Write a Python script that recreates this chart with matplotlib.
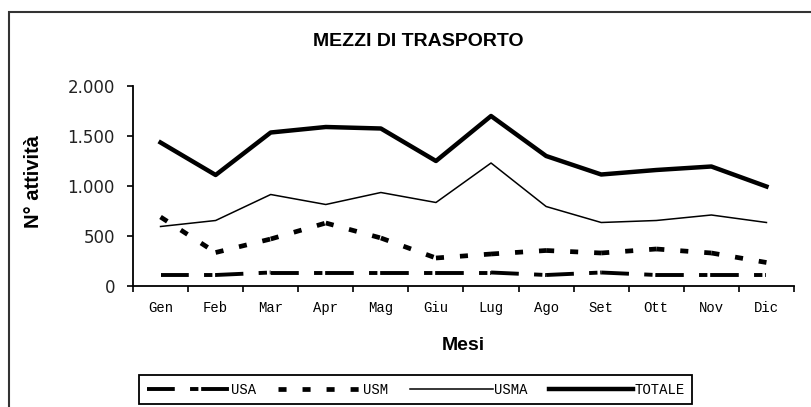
import matplotlib
matplotlib.use("Agg")
import matplotlib.pyplot as plt
from matplotlib.patches import Rectangle

# dati
mesi = ["Gen", "Feb", "Mar", "Apr", "Mag", "Giu", "Lug", "Ago", "Set", "Ott", "Nov", "Dic"]
usa = [110, 110, 135, 135, 135, 135, 135, 110, 135, 110, 110, 110]
usm = [690, 335, 470, 630, 480, 280, 320, 355, 330, 370, 330, 235]
usma = [595, 655, 915, 815, 935, 835, 1230, 795, 635, 655, 710, 635]
totale = [1435, 1110, 1535, 1590, 1575, 1250, 1700, 1300, 1115, 1160, 1195, 995]
y_ticks = [0, 500, 1000, 1500, 2000]
y_labels = ["0", "500", "1.000", "1.500", "2.000"]

plt.rcParams['lines.scale_dashes'] = False

fig = plt.figure(figsize=(8.12, 4.07), dpi=100)
ax = fig.add_axes([133 / 812, 1 - 286 / 407, 661 / 812, 200 / 407])

x = list(range(len(mesi)))

# come in Excel il tratteggio riparte a ogni segmento
def plot_segments(vals, label, **kw):
    for i in range(len(vals) - 1):
        ax.plot(x[i:i + 2], vals[i:i + 2], label=label if i == 0 else None,
                dash_capstyle='butt', **kw)

plot_segments(usa, "USA", color='black', lw=2.8, dashes=(20, 11, 6, 2))
plot_segments(usm, "USM", color='black', lw=3.4, dashes=(5.8, 11.5))
ax.plot(x, usma, color='black', lw=1.1, label="USMA")
ax.plot(x, totale, color='black', lw=3.2, label="TOTALE", solid_joinstyle='round')

ax.set_xlim(-0.5, len(mesi) - 0.5)
ax.set_ylim(0, 2000)
ax.set_yticks(y_ticks)
ax.set_yticklabels(y_labels, fontsize=12, family='DejaVu Sans', color='#222222')
ax.set_xticks([i - 0.5 for i in range(len(mesi) + 1)])
ax.set_xticklabels([])
ax.set_xticks(x, minor=True)
ax.set_xticklabels(mesi, minor=True, fontsize=10, family='Liberation Mono')
ax.tick_params(axis='x', which='major', direction='out', length=4, width=1.2)
ax.tick_params(axis='x', which='minor', length=0, pad=11)
ax.tick_params(axis='y', direction='out', length=4, width=1.2, pad=9)

for s in ['top', 'right']:
    ax.spines[s].set_visible(False)
for s in ['left', 'bottom']:
    ax.spines[s].set_linewidth(1.3)

ax.set_xlabel("Mesi", fontsize=14, fontweight='bold', family='Liberation Sans')
ax.xaxis.label.set_va('center')
ax.xaxis.set_label_coords(0.5, -(345 - 286) / 200)
ax.set_ylabel("N° attività", fontsize=14.5, fontweight='bold', family='Liberation Sans')
ax.yaxis.set_label_coords(-0.136, 0.52)

fig.text(418 / 812, 1 - 41 / 407, "MEZZI DI TRASPORTO", ha='center', va='center',
         fontsize=14, fontweight='bold', family='Liberation Sans')

leg = fig.legend(loc='center', ncol=4, mode='expand',
                 bbox_to_anchor=(139 / 812, 1 - 405 / 407, 553 / 812, 31 / 407),
                 prop={'family': 'Liberation Mono', 'size': 10},
                 handlelength=6, handletextpad=0.1, columnspacing=0.8,
                 fancybox=False, framealpha=1, borderpad=0.55, borderaxespad=0)
leg.get_frame().set_edgecolor('black')
leg.get_frame().set_linewidth(1.3)

# cornice esterna del grafico
fig.patches.append(Rectangle((9 / 812, -0.1), 1.2, 1 - 12 / 407 + 0.1,
                             transform=fig.transFigure, fill=False,
                             edgecolor='#333333', lw=1.5))

fig.savefig("out.png", dpi=100)
